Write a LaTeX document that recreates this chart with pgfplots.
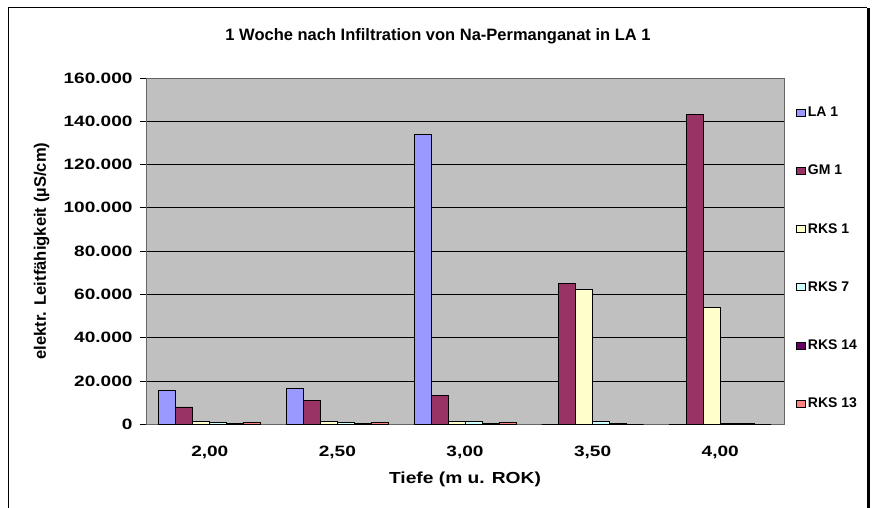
\documentclass[border=0pt]{standalone}
\usepackage{fontspec}
\setmainfont{Liberation Sans}
\newfontfamily\tickfont[FakeStretch=1.27]{Liberation Sans}
\newfontfamily\xlabfont[FakeStretch=1.2]{Liberation Sans}
\usepackage{pgfplots}
\pgfplotsset{compat=1.18}
\definecolor{cLA}{HTML}{9999FF}
\definecolor{cGM}{HTML}{993366}
\definecolor{cRK1}{HTML}{FFFFCC}
\definecolor{cRK7}{HTML}{CCFFFF}
\definecolor{cRK14}{HTML}{660066}
\definecolor{cRK13}{HTML}{FF8080}
\definecolor{plotbg}{HTML}{C0C0C0}
\begin{document}
\begin{tikzpicture}
\useasboundingbox (-146bp,-83.7bp) rectangle (729bp,424.3bp);
\fill[white] (-146bp,-83.7bp) rectangle (729bp,424.3bp);
\draw[black, line width=1bp] (-137bp,-95bp) -- (-137bp,416.3bp) -- (721bp,416.3bp);
\draw[black, line width=3bp] (722bp,416.3bp) -- (722bp,-95bp);
\begin{axis}[
  at={(0,0)}, anchor=south west,
  scale only axis,
  width=638bp, height=346.4bp,
  ybar=0pt, bar width=17bp,
  xmin=-0.5, xmax=4.5,
  ymin=0, ymax=160000,
  ytick={0,20000,...,160000},
  xtick={0,1,2,3,4},
  xticklabels={{2,00},{2,50},{3,00},{3,50},{4,00}},
  x tick style={draw=none},
  extra x ticks={-0.5,0.5,1.5,2.5,3.5,4.5},
  extra x tick labels={},
  extra x tick style={major tick length=6bp, tick style={draw=black, line width=0.75bp}, tick align=outside, grid=none},
  ytick pos=left,
  tick align=outside,
  major tick length=6bp,
  y tick style={black, line width=0.75bp},
  ymajorgrids,
  major grid style={black, line width=0.75bp},
  axis background/.style={fill=plotbg},
  axis line style={draw=gray!80!black, line width=0.75bp},
  scaled y ticks=false,
  yticklabel style={/pgf/number format/fixed, /pgf/number format/1000 sep={.}, /pgf/number format/assume math mode=true, font=\tickfont\fontsize{15bp}{17bp}\selectfont\bfseries, xshift=-4bp},
  xticklabel style={font=\tickfont\fontsize{15bp}{17bp}\selectfont\bfseries, yshift=-12bp},
  title={1 Woche nach Infiltration von Na-Permanganat in LA 1},
  title style={font=\fontsize{16.5bp}{19bp}\selectfont\bfseries, at={(rel axis cs:0.4577,1)}, anchor=center, yshift=35.4bp},
  xlabel={Tiefe (m u. ROK)},
  xlabel style={font=\xlabfont\fontsize{16bp}{19bp}\selectfont\bfseries, at={(rel axis cs:0.5,0)}, anchor=center, yshift=-55bp},
  ylabel={elektr. Leitfähigkeit (µS/cm)},
  ylabel style={font=\fontsize{16.6bp}{19bp}\selectfont\bfseries, at={(rel axis cs:-0.1635,0.5)}, anchor=center},
  legend style={
    at={(rel axis cs:1,1)}, anchor=north west, xshift=9bp, yshift=-25bp,
    draw=none, fill=none,
    font=\fontsize{14bp}{16bp}\selectfont\bfseries,
    row sep=43bp,
    /tikz/every even column/.append style={column sep=2bp},
    legend cell align=left,
  },
  legend image code/.code={\draw[#1, line width=0.75bp] (0bp,-3.5bp) rectangle (9bp,3.5bp);},
  every axis plot/.append style={draw=black, line width=0.75bp},
]
\addplot[fill=cLA] coordinates {(0,15500) (1,16600) (2,133800) (3,0) (4,0)};
\addplot[fill=cGM] coordinates {(0,8000) (1,11000) (2,13300) (3,65100) (4,143300)};
\addplot[fill=cRK1] coordinates {(0,1500) (1,1500) (2,1500) (3,62400) (4,54000)};
\addplot[fill=cRK7] coordinates {(0,800) (1,800) (2,1200) (3,1200) (4,300)};
\addplot[fill=cRK14] coordinates {(0,300) (1,300) (2,300) (3,500) (4,400)};
\addplot[fill=cRK13] coordinates {(0,800) (1,800) (2,800) (3,0) (4,0)};
\legend{LA 1, GM 1, RKS 1, RKS 7, RKS 14, RKS 13}
\end{axis}
\end{tikzpicture}
\end{document}
